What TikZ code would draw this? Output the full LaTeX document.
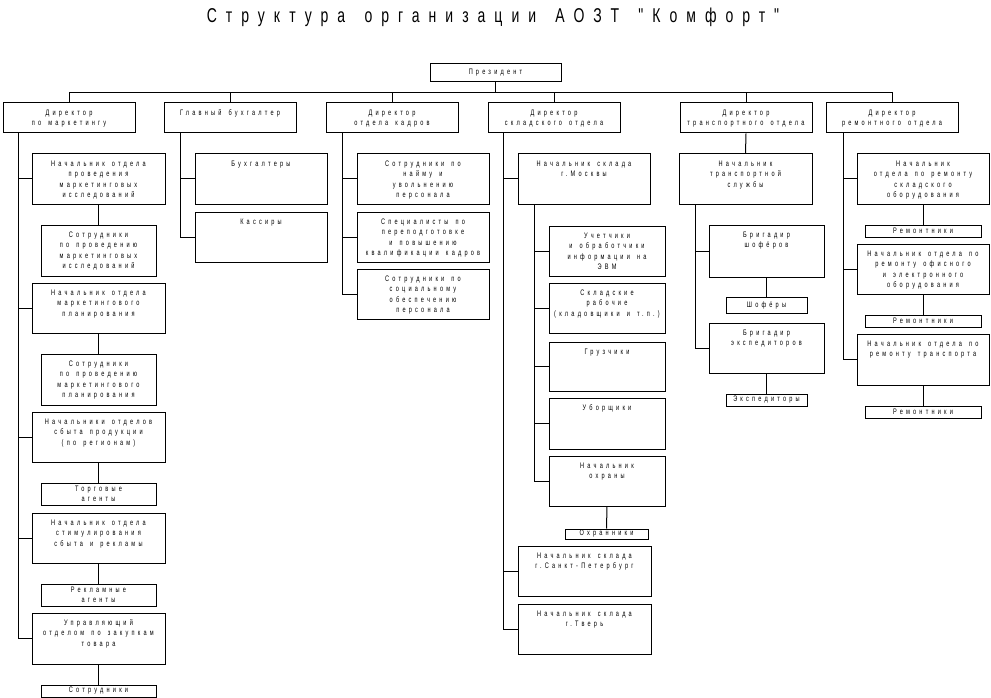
\documentclass[tikz,border=0pt]{standalone}
\usepackage{fontspec}
\newfontfamily\boxfont[FakeStretch=0.7,LetterSpace=40,WordSpace=1.5]{Liberation Sans}
\newfontfamily\ttlfont[FakeStretch=0.7,LetterSpace=45,WordSpace=1.5]{Liberation Sans}
\tikzset{
  box/.style={draw, line width=1pt, inner sep=0pt, font=\boxfont\fontsize{8}{10.3}\selectfont},
  sbox/.style={box, align=center},
  conn/.style={line width=1pt}
}
% top-aligned box: name, x1, y1, x2, y2, text
\newcommand\bx[6]{%
  \node[box] (#1) at ({(#2+#4)/2},{(#3+#5)/2})
  {\parbox[c][\dimexpr#5pt-#3pt\relax][t]{\dimexpr#4pt-#2pt\relax}{\centering\rule{0pt}{12.5pt}#6\par}};}
% centred box
\newcommand\sbx[6]{%
  \node[sbox, minimum width={(#4-#2)*1pt}, minimum height={(#5-#3)*1pt}, text width={(#4-#2)*1pt}] (#1) at ({(#2+#4)/2},{(#3+#5)/2}) {#6};}
\begin{document}
\begin{tikzpicture}[x=1pt,y=-1pt]
\fill[white] (0,0) rectangle (991,698);
\useasboundingbox (0,0) rectangle (991,698);
\node[font=\ttlfont\fontsize{20}{24}\selectfont] (title) at (493,17) {Структура организации АОЗТ "Комфорт"};

\sbx{pres}{430}{64}{561}{82}{Президент}

\bx{d1}{3}{103}{135}{133}{Директор\\по маркетингу}
\bx{d2}{164}{103}{296}{133}{Главный бухгалтер}
\bx{d3}{326}{103}{458}{133}{Директор\\отдела кадров}
\bx{d4}{488}{103}{620}{133}{Директор\\складского отдела}
\bx{d5}{680}{103}{812}{133}{Директор\\транспортного отдела}
\bx{d6}{826}{103}{958}{133}{Директор\\ремонтного отдела}

% marketing
\bx{m1}{32}{154}{165}{204}{Начальник отдела\\проведения\\маркетинговых\\исследований}
\bx{m1s}{41}{225}{156}{276}{Сотрудники\\по проведению\\маркетинговых\\исследований}
\bx{m2}{32}{283}{165}{333}{Начальник отдела\\маркетингового\\планирования}
\bx{m2s}{41}{354}{156}{405}{Сотрудники\\по проведению\\маркетингового\\планирования}
\bx{m3}{32}{412}{165}{462}{Начальники отделов\\сбыта продукции\\(по регионам)}
\sbx{m3s}{41}{483}{156}{505}{Торговые\\агенты}
\bx{m4}{32}{513}{165}{563}{Начальник отдела\\стимулирования\\сбыта и рекламы}
\sbx{m4s}{41}{584}{156}{606}{Рекламные\\агенты}
\bx{m5}{32}{613}{165}{664}{Управляющий\\отделом по закупкам\\товара}
\sbx{m5s}{41}{685}{156}{697}{Сотрудники}

% accounting
\bx{b1}{195}{154}{327}{204}{Бухгалтеры}
\bx{b2}{195}{212}{327}{262}{Кассиры}

% personnel
\bx{k1}{357}{154}{489}{204}{Сотрудники по\\найму и\\увольнению\\персонала}
\bx{k2}{357}{212}{489}{262}{Специалисты по\\переподготовке\\и повышению\\квалификации кадров}
\bx{k3}{357}{269}{489}{319}{Сотрудники по\\социальному\\обеспечению\\персонала}

% warehouse
\bx{s1}{518}{154}{650}{204}{Начальник склада\\г.Москвы}
\bx{s11}{549}{226}{665}{276}{Учетчики\\и обработчики\\информации на\\ЭВМ}
\bx{s12}{549}{283}{665}{333}{Складские\\рабочие\\(кладовщики и т.п.)}
\bx{s13}{549}{342}{665}{391}{Грузчики}
\bx{s14}{549}{398}{665}{449}{Уборщики}
\bx{s15}{549}{456}{665}{506}{Начальник\\охраны}
\sbx{s15s}{565}{529}{648}{539}{Охранники}
\bx{s2}{518}{546}{651}{596}{Начальник склада\\г.Санкт-Петербург}
\bx{s3}{518}{604}{651}{654}{Начальник склада\\г.Тверь}

% transport
\bx{t1}{679}{154}{812}{204}{Начальник\\транспортной\\службы}
\bx{t11}{709}{225}{824}{277}{Бригадир\\шофёров}
\sbx{t11s}{726}{297}{807}{313}{Шофёры}
\bx{t12}{709}{323}{824}{373}{Бригадир\\экспедиторов}
\sbx{t12s}{726}{394}{807}{406}{Экспедиторы}

% repair
\bx{r1}{857}{154}{989}{204}{Начальник\\отдела по ремонту\\складского\\оборудования}
\sbx{r1s}{865}{225}{981}{237}{Ремонтники}
\bx{r2}{857}{244}{989}{294}{Начальник отдела по\\ремонту офисного\\и электронного\\оборудования}
\sbx{r2s}{865}{315}{981}{327}{Ремонтники}
\bx{r3}{857}{334}{989}{385}{Начальник отдела по\\ремонту транспорта}
\sbx{r3s}{865}{406}{981}{418}{Ремонтники}

% connectors
\coordinate (bus) at (0,93);
\coordinate (tm) at (18,0);
\coordinate (tb) at (180,0);
\coordinate (tk) at (342,0);
\coordinate (ts) at (503,0);
\coordinate (tsm) at (534,0);
\coordinate (tt) at (695,0);
\coordinate (tr) at (843,0);

\draw[conn] (pres.south) -- (pres.south |- bus);
\draw[conn] (d1.north) -- (d1.north |- bus) -- (d6.north |- bus) -- (d6.north);
\foreach \d in {d2,d3,d4,d5} \draw[conn] (\d.north) -- (\d.north |- bus);

\draw[conn] (tm |- d1.south) |- (m5.west);
\foreach \m in {m1,m2,m3,m4} \draw[conn] (tm |- \m.west) -- (\m.west);
\foreach \m in {m1,m2,m3,m4,m5} \draw[conn] (\m.south) -- (\m s.north);

\draw[conn] (tb |- d2.south) |- (b2.west);
\draw[conn] (tb |- b1.west) -- (b1.west);

\draw[conn] (tk |- d3.south) |- (k3.west);
\foreach \k in {k1,k2} \draw[conn] (tk |- \k.west) -- (\k.west);

\draw[conn] (ts |- d4.south) |- (s3.west);
\foreach \s in {s1,s2} \draw[conn] (ts |- \s.west) -- (\s.west);
\draw[conn] (tsm |- s1.south) |- (s15.west);
\foreach \s in {s11,s12,s13,s14} \draw[conn] (tsm |- \s.west) -- (\s.west);
\draw[conn] (s15.south) -- (s15s.north);

\draw[conn] (d5.south) -- (t1.north);
\draw[conn] (tt |- t1.south) |- (t12.west);
\draw[conn] (tt |- t11.west) -- (t11.west);
\draw[conn] (t11.south) -- (t11s.north);
\draw[conn] (t12.south) -- (t12s.north);

\draw[conn] (tr |- d6.south) |- (r3.west);
\foreach \r in {r1,r2} \draw[conn] (tr |- \r.west) -- (\r.west);
\foreach \r in {r1,r2,r3} \draw[conn] (\r.south) -- (\r s.north);
\end{tikzpicture}
\end{document}
